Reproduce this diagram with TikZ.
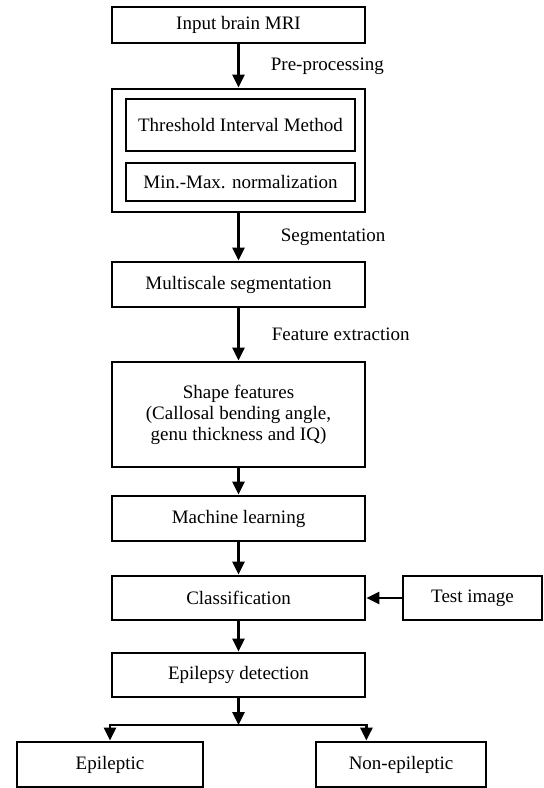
\documentclass[tikz,border=0pt]{standalone}
\usepackage{fontspec}
\setmainfont{Liberation Serif}
\usetikzlibrary{arrows.meta}

\begin{document}
\begin{tikzpicture}[x=1pt,y=-1pt,line width=2.8pt,
        >={Triangle[length=13pt,width=12pt]},
        box/.style={draw,rectangle,inner sep=0pt,align=center,font=\fontsize{19}{21}\selectfont},
        lbl/.style={inner sep=0pt,font=\fontsize{19}{21}\selectfont}]
        \useasboundingbox (0,0) rectangle (544,788);

        % Input and pre-processing
        \node[box,minimum width=253pt,minimum height=36pt] (input) at (238.5,25) {Input brain MRI};
        \node[box,minimum width=253pt,minimum height=123pt] (outer) at (238.5,150.5) {};
        \node[box,minimum width=229pt,minimum height=52pt] (thr) at (240.5,125) {Threshold Interval Method};
        \node[box,minimum width=229pt,minimum height=38pt] (minmax) at (240.5,182) {Min.-Max. normalization};
        \draw[->] (input) -- node[lbl,right=31pt] (pre) {Pre-processing} (outer);

        % Segmentation and features
        \node[box,minimum width=253pt,minimum height=45pt] (multi) at (238.5,284.5) {Multiscale segmentation};
        \draw[->] (outer) -- node[lbl,right=41pt] (seg) {Segmentation} (multi);
        \node[box,minimum width=253pt,minimum height=105pt] (shape) at (238.5,414.5) {Shape features\\(Callosal bending angle,\\genu thickness and IQ)};
        \draw[->] (multi) -- node[lbl,right=32pt] (feat) {Feature extraction} (shape);

        % Learning and classification
        \node[box,minimum width=253pt,minimum height=45pt] (ml) at (238.5,518.5) {Machine learning};
        \node[box,minimum width=253pt,minimum height=44pt] (cls) at (238.5,598) {Classification};
        \node[box,minimum width=139pt,minimum height=44pt] (test) at (472.5,598) {Test image};
        \node[box,minimum width=253pt,minimum height=44pt] (epi) at (238.5,675) {Epilepsy detection};
        \draw[->] (shape) -- (ml);
        \draw[->] (ml) -- (cls);
        \draw[->] (test) -- (cls);
        \draw[->] (cls) -- (epi);

        % Outcome
        \node[box,minimum width=186pt,minimum height=45pt] (epileptic) at (110,764.5) {Epileptic};
        \node[box,minimum width=170pt,minimum height=45pt] (nonepi) at (401,764.5) {Non-epileptic};
        \coordinate (split) at (238.5,725);
        \draw[->] (epi) -- (split);
        \draw[->] (split) -| (epileptic);
        \draw[->] (split) -| (nonepi.north -| epi.east);
    \end{tikzpicture}
\end{document}
